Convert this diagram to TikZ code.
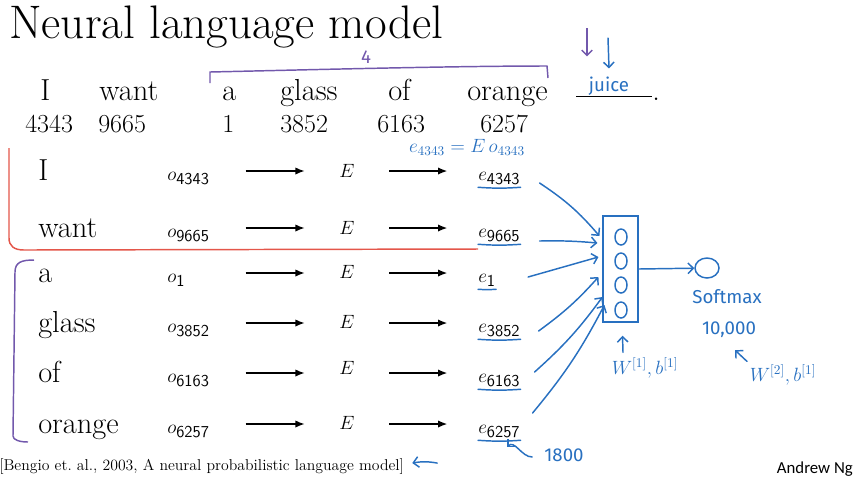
\documentclass[tikz,border=0pt]{standalone}
\usepackage{fontspec}
\newfontfamily\ngfont{Carlito}
\newfontfamily\handfont{Fira Sans}
\usetikzlibrary{arrows.meta,shapes.geometric}
\definecolor{penblue}{RGB}{40,112,192}
\definecolor{penpurple}{RGB}{114,88,172}
\definecolor{penred}{RGB}{228,86,74}
\newcommand{\idx}[1]{_{\mbox{\fontsize{12.5}{12.5}\selectfont\sffamily #1}}}

\begin{document}
\begin{tikzpicture}[x=0.75pt,y=-0.75pt,
  word/.style={anchor=base west,inner sep=0pt,font=\fontsize{22.8}{27}\selectfont},
  num/.style={anchor=base west,inner sep=0pt,font=\fontsize{19.5}{23}\selectfont},
  row/.style={inner sep=0pt,text height=13.5pt,text depth=0pt,font=\fontsize{14}{17}\selectfont},
  onehot/.style={row,anchor=base west,text width=58.5pt},
  emb/.style={row,anchor=base,minimum width=63pt},
  vec/.style={row,anchor=base west},
  look/.style={-{Latex[length=7pt,width=5.5pt]},line width=1.1pt},
  pen/.style={penblue,line width=1.1pt,line cap=round},
  tip/.style={-{Straight Barb[length=4pt,width=8pt]}},
  note/.style={text=penblue,inner sep=0pt,font=\handfont\fontsize{14}{16}\selectfont}]
  \useasboundingbox (0,0) rectangle (862,480);
  \node[anchor=base west,inner sep=0pt,font=\fontsize{35.3}{40}\selectfont] (title) at (9,38) {Neural language model};

  % the sentence and its word indices
  \node[word] (tI) at (40,100) {I};
  \node[word] (twant) at (99,100) {want};
  \node[word] (ta) at (222,100) {a};
  \node[word] (tglass) at (280,100) {glass};
  \node[word] (tof) at (388,100) {of};
  \node[word] (torange) at (467,100) {orange};
  \node[word] (blank) at (576,100) {\rule[2.3pt]{57pt}{0.9pt}.};
  \node[num] (nI) at (25,132) {4343};
  \node[num] (nwant) at (98,132) {9665};
  \node[num] (na) at (222,132) {1};
  \node[num] (nglass) at (280,132) {3852};
  \node[num] (nof) at (377,132) {6163};
  \node[num] (norange) at (480,132) {6257};

  % one-hot -> E -> embedding
  \node[word] (wI) at (38,180) {I};
  \node[onehot] (oI) at (167,180) {$o\idx{4343}$};
  \node[emb] (EI) at (347,180) {\raisebox{2pt}{$E$}};
  \node[vec] (eI) at (478,180) {$e\idx{4343}$};
  \node[word] (wwant) at (38,237) {want};
  \node[onehot] (owant) at (167,237) {$o\idx{9665}$};
  \node[emb] (Ewant) at (347,237) {\raisebox{2pt}{$E$}};
  \node[vec] (ewant) at (478,237) {$e\idx{9665}$};
  \node[word] (wa) at (38,282) {a};
  \node[onehot] (oa) at (167,282) {$o\idx{1}$};
  \node[emb] (Ea) at (347,282) {\raisebox{3pt}{$E$}};
  \node[vec] (ea) at (478,282) {$e\idx{1}$};
  \node[word] (wglass) at (38,332) {glass};
  \node[onehot] (oglass) at (167,332) {$o\idx{3852}$};
  \node[emb] (Eglass) at (347,332) {\raisebox{3pt}{$E$}};
  \node[vec] (eglass) at (478,332) {$e\idx{3852}$};
  \node[word] (wof) at (38,382) {of};
  \node[onehot] (oof) at (167,382) {$o\idx{6163}$};
  \node[emb] (Eof) at (347,382) {\raisebox{6pt}{$E$}};
  \node[vec] (eof) at (478,382) {$e\idx{6163}$};
  \node[word] (worange) at (38,433) {orange};
  \node[onehot] (oorange) at (167,433) {$o\idx{6257}$};
  \node[emb] (Eorange) at (347,433) {\raisebox{3pt}{$E$}};
  \node[vec] (eorange) at (478,433) {$e\idx{6257}$};
  \foreach \r in {I,want,a,glass,of,orange} {
    \draw[look] (o\r) -- (E\r);
    \draw[look,shorten >=23pt] (E\r) -- (e\r);
  }

  % hand-written notes
  \draw[penred,line width=1.1pt] (9,148) -- (9,238) .. controls (9,246) and (14,250) .. (24,250) -- (478,249);
  \draw[penpurple,line width=1.1pt] (34,260) .. controls (22,260) and (15,262) .. (15,272) -- (13,436) .. controls (13,440) and (20,442) .. (28,442);
  \draw[penpurple,line width=1.1pt] (210,83) -- (210,72) .. controls (300,70) and (450,66) .. (547,66) -- (548,78);
  \node[note,text=penpurple] (four) at (366,57) {4};
  \node[note] (juice) at (609,86) {juice};
  \coordinate (pfrom) at (587,28);
  \coordinate (bfrom) at (608,38);
  \draw[penpurple,line width=1.1pt,tip] (pfrom) -- ([shift={(-22,-20)}]juice.north);
  \draw[pen,tip] (bfrom) -- ([shift={(0,-8)}]juice.north);
  \node[note] (eq) at (467,147) {$e_{4343}=E\,o_{4343}$};
  \foreach \r in {I,want,a,glass,of,orange}
    \draw[pen] ([shift={(0,7)}]e\r.south west) to[bend right=4] ([shift={(0,7)}]e\r.south east);

  % hidden layer and softmax
  \node[draw=penblue,line width=1.1pt,minimum width=26pt,minimum height=79.5pt,inner sep=0pt] (hid) at (620.5,269) {};
  \node[pen,draw,ellipse,minimum width=9pt,minimum height=12pt,inner sep=0pt] (u1) at (621,237) {};
  \node[pen,draw,ellipse,minimum width=9pt,minimum height=12pt,inner sep=0pt] (u2) at (621,261) {};
  \node[pen,draw,ellipse,minimum width=9pt,minimum height=12pt,inner sep=0pt] (u3) at (621,285) {};
  \node[pen,draw,ellipse,minimum width=9pt,minimum height=12pt,inner sep=0pt] (u4) at (621,310) {};
  \node[pen,draw,ellipse,minimum width=18pt,minimum height=15pt,inner sep=0pt] (soft) at (707,268) {};
  \draw[pen,tip] (hid.east) -- (soft);
  \draw[pen,tip] ([shift={(19,12)}]eI.east) to[bend left=8] ([shift={(-3,-33)}]hid.west);
  \draw[pen,tip] ([shift={(19,13)}]ewant.east) to[bend left=3] ([shift={(-5,-26)}]hid.west);
  \draw[pen,tip] ([shift={(32,4)}]ea.east) -- ([shift={(-4,-12)}]hid.west);
  \draw[pen,tip] ([shift={(18,8)}]eglass.east) to[bend right=6] ([shift={(-4,8)}]hid.west);
  \draw[pen,tip] ([shift={(14,-1)}]eof.east) to[bend right=6] ([shift={(0,28)}]hid.west);
  \draw[pen,tip] ([shift={(12,-11)}]eorange.east) to[bend right=6] ([shift={(2,36)}]hid.west);
  \node[note] (smax) at (727,297) {Softmax};
  \node[note] (cnt) at (729,330) {10,000};
  \node[note] (w1) at (645,368) {$W^{[1]}, b^{[1]}$};
  \node[note] (w2) at (783,375) {$W^{[2]}, b^{[1]}$};
  \draw[pen,tip] ([shift={(-22,-5)}]w1.north) -- ([shift={(2,13)}]hid.south);
  \draw[pen,tip] ([shift={(-36,-3)}]w2.north) -- ([shift={(6,12)}]cnt.south);
  \node[note] (dim) at (564,455) {1800};
  \draw[pen,tip] ([shift={(-12,2)}]dim.west) to[out=180,in=45] ([shift={(-37,-8)}]dim.west);

  % footer
  \node[anchor=base west,inner sep=0pt,font=\fontsize{11.8}{14}\selectfont] (cite) at (-1,470) {[Bengio et.\ al., 2003, A neural probabilistic language model]};
  \draw[pen,tip] ([shift={(33,-3)}]cite.east) to[bend right=10] ([shift={(8,-3)}]cite.east);
  \node[anchor=base east,inner sep=0pt,font=\ngfont\fontsize{12.6}{15}\selectfont] (ng) at (853,473) {Andrew Ng};
\end{tikzpicture}
\end{document}
